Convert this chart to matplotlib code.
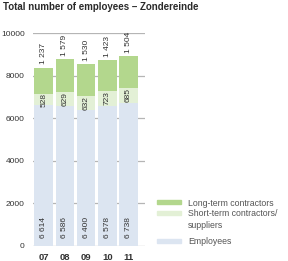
import matplotlib
matplotlib.use("Agg")
import matplotlib.pyplot as plt
from matplotlib.patches import Rectangle

years = ["07", "08", "09", "10", "11"]
employees = [6614, 6586, 6400, 6578, 6738]
short_term = [528, 629, 632, 723, 685]
long_term = [1237, 1579, 1530, 1423, 1504]
yticks = [0, 2000, 4000, 6000, 8000, 10000]
title = "Total number of employees \u2013 Zondereinde"
legend_labels = ["Long-term contractors", "Short-term contractors/", "suppliers", "Employees"]

c_long = "#b3d78d"
c_short = "#e3f0d6"
c_emp = "#dce5f1"
txt = "#333333"

plt.rcParams['font.family'] = ['Liberation Sans Narrow', 'Liberation Sans', 'DejaVu Sans']

def fmt(v):
    return f"{v:,}".replace(",", " ")

fig = plt.figure(figsize=(2.88, 2.61), dpi=100)
ax = fig.add_axes([33/288, 1-245.7/261, 112/288, (245.7-33.2)/261])

x = list(range(len(years)))
w = 0.885
bottom2 = employees
bottom3 = [e + s for e, s in zip(employees, short_term)]
ax.set_axisbelow(True)
ax.bar(x, employees, width=w, color=c_emp, zorder=2)
ax.bar(x, short_term, width=w, bottom=bottom2, color=c_short, zorder=2)
ax.bar(x, long_term, width=w, bottom=bottom3, color=c_long, zorder=2)

for i in x:
    ax.annotate(fmt(employees[i]), (i, 0), xytext=(0, 5.3), textcoords="offset points",
                rotation=90, ha="center", va="bottom", fontsize=6, color=txt, zorder=3)
    ax.text(i, employees[i] + short_term[i] / 2, fmt(short_term[i]), rotation=90,
            ha="center", va="center", fontsize=6, color=txt, zorder=3)
    ax.annotate(fmt(long_term[i]), (i, bottom3[i] + long_term[i]), xytext=(0, 2.3),
                textcoords="offset points", rotation=90, ha="center", va="bottom",
                fontsize=6, color=txt, zorder=3)

ax.set_xlim(-0.51, 4.79)
ax.set_ylim(0, 10000)
ax.set_yticks(yticks)
ax.set_yticklabels([str(t) for t in yticks], fontsize=6, color=txt)
ax.set_xticks(x)
ax.set_xticklabels(years, fontsize=6.8, fontweight="bold", color=txt)
ax.tick_params(axis="both", length=0)
ax.tick_params(axis="y", pad=6)
ax.tick_params(axis="x", pad=5.5)
ax.grid(axis="y", color="#b5b5b5", linewidth=0.9)
for s in ax.spines.values():
    s.set_visible(False)

fig.text(3/288, 1-7/261, title, fontsize=7, fontweight="bold", color="#2a2a2a",
         ha="left", va="center")

# legend
cols = [c_long, c_short, None, c_emp]
ys = [202, 213, 224, 241]
for col, yy, lab in zip(cols, ys, legend_labels):
    if col is not None:
        fig.patches.append(Rectangle((157/288, 1-(yy+2)/261), 24/288, 4/261,
                                     transform=fig.transFigure, color=col, figure=fig))
    fig.text(188/288, 1-yy/261, lab, fontsize=6.3, color="#555555",
             ha="left", va="center_baseline")

fig.savefig("out.png", dpi=100)
